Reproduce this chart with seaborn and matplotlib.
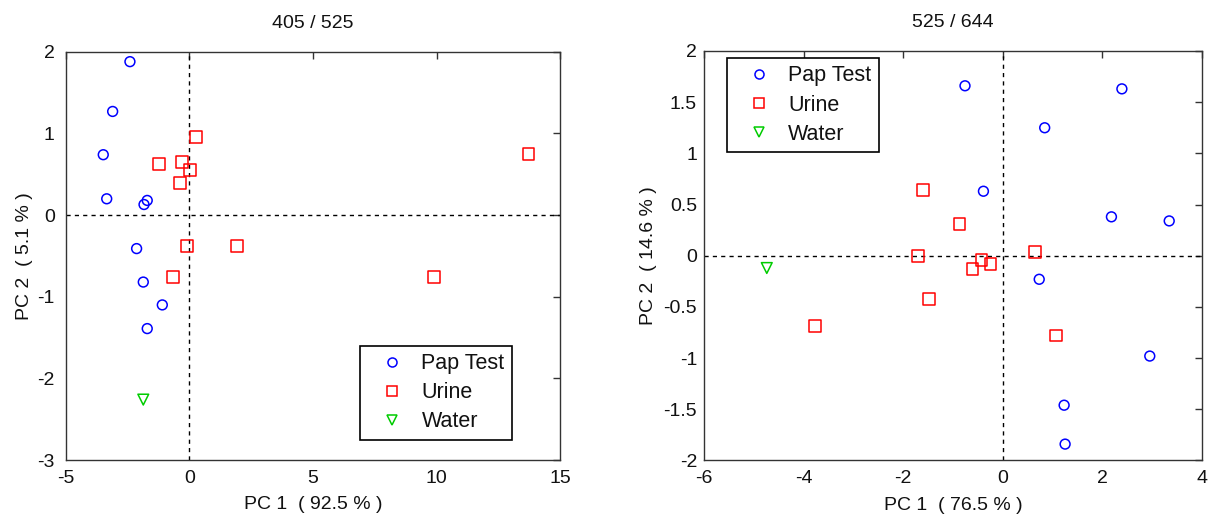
'''
    PCA score plots for two wavelength ratios
'''

# --
# Dependancies

import matplotlib
matplotlib.use('Agg')
import matplotlib.pyplot as plt
from matplotlib.lines import Line2D
from matplotlib.ticker import FormatStrFormatter
import seaborn as sns
import pandas as pd

# --
# Data

groups = ['Pap Test', 'Urine', 'Water']

# 405 / 525
pap_x_a = [-2.41, -3.11, -3.49, -3.35, -1.71, -1.84, -2.14, -1.87, -1.10, -1.71]
pap_y_a = [1.88, 1.27, 0.74, 0.20, 0.18, 0.13, -0.41, -0.82, -1.10, -1.39]
uri_x_a = [0.28, -1.23, -0.30, 0.02, -0.38, -0.09, 1.91, -0.68, 13.72, 9.90]
uri_y_a = [0.96, 0.63, 0.65, 0.55, 0.39, -0.38, -0.38, -0.76, 0.75, -0.76]
wat_x_a = [-1.87]
wat_y_a = [-2.26]

# 525 / 644
pap_x_b = [-0.76, 2.39, 0.84, -0.39, 2.18, 3.34, 0.73, 2.95, 1.23, 1.25]
pap_y_b = [1.66, 1.63, 1.25, 0.63, 0.38, 0.34, -0.23, -0.98, -1.46, -1.84]
uri_x_b = [-1.61, -0.87, -1.71, -0.61, -1.49, -3.77, -0.43, -0.25, 0.65, 1.07]
uri_y_b = [0.64, 0.31, -0.00, -0.13, -0.42, -0.69, -0.04, -0.08, 0.04, -0.78]
wat_x_b = [-4.74]
wat_y_b = [-0.12]

titles = ['405 / 525', '525 / 644']
xlabels = ['PC 1  ( 92.5 % )', 'PC 1  ( 76.5 % )']
ylabels = ['PC 2  ( 5.1 % )', 'PC 2  ( 14.6 % )']


def build(px, py, ux, uy, wx, wy):
    return pd.DataFrame({
        'x': px + ux + wx,
        'y': py + uy + wy,
        'group': ['Pap Test'] * len(px) + ['Urine'] * len(ux) + ['Water'] * len(wx),
    })


df_a = build(pap_x_a, pap_y_a, uri_x_a, uri_y_a, wat_x_a, wat_y_a)
df_b = build(pap_x_b, pap_y_b, uri_x_b, uri_y_b, wat_x_b, wat_y_b)

# --
# Style

sns.set_style('white')
plt.rcParams['font.family'] = ['Liberation Sans', 'DejaVu Sans']
plt.rcParams['axes.unicode_minus'] = False
plt.rcParams['text.color'] = '#111111'
plt.rcParams['axes.labelcolor'] = '#111111'
plt.rcParams['xtick.labelcolor'] = '#111111'
plt.rcParams['ytick.labelcolor'] = '#111111'

FS = 14
palette = {'Pap Test': '#0000ff', 'Urine': '#ff0000', 'Water': '#00cc00'}
markers = {'Pap Test': 'o', 'Urine': 's', 'Water': 'v'}
sizes = {'Pap Test': 50, 'Urine': 72, 'Water': 60}

fig = plt.figure(figsize=(12.08, 5.16), dpi=100)
ax1 = fig.add_axes([0.0546, 0.1085, 0.409, 0.791])
ax2 = fig.add_axes([0.5828, 0.1076, 0.4123, 0.7936])


def draw(ax, df, xlim, ylim, xticks, yticks, title, xlabel, ylabel,
         legend_loc, anchor, ypad, ylpad):
    ax.axhline(0, color='black', ls=(0, (3, 3)), lw=1, zorder=1)
    ax.axvline(0, color='black', ls=(0, (3, 3)), lw=1, zorder=1)
    for g in groups:
        sub = df[df.group == g]
        sns.scatterplot(data=sub, x='x', y='y', ax=ax, marker=markers[g],
                        s=sizes[g], color=palette[g], facecolor='none',
                        edgecolor=palette[g], linewidth=1.1, legend=False, zorder=3)
    ax.set_xlim(xlim)
    ax.set_ylim(ylim)
    ax.set_xticks(xticks)
    ax.set_yticks(yticks)
    ax.yaxis.set_major_formatter(FormatStrFormatter('%g'))
    ax.tick_params(direction='in', top=True, right=True, length=5, width=1,
                   color='#333333', labelsize=FS)
    ax.tick_params(axis='x', pad=7)
    ax.tick_params(axis='y', pad=ypad)
    for sp in ax.spines.values():
        sp.set_color('#333333')
        sp.set_linewidth(1)
    ax.set_title(title, fontsize=FS, pad=17)
    ax.set_xlabel(xlabel, fontsize=FS, labelpad=7)
    ax.set_ylabel(ylabel, fontsize=FS, labelpad=ylpad)

    handles = [Line2D([], [], ls='none', marker=markers[g], markersize=6.5,
                      markerfacecolor='none', markeredgecolor=palette[g],
                      markeredgewidth=1.1) for g in groups]
    leg = ax.legend(handles, groups, loc=legend_loc, bbox_to_anchor=anchor,
                    borderaxespad=0, fancybox=False, framealpha=1,
                    edgecolor='black', fontsize=15.5, handletextpad=0.2,
                    handlelength=2.3, borderpad=0.35, labelspacing=0.38)
    leg.get_frame().set_linewidth(1.2)


draw(ax1, df_a, (-5, 15), (-3, 2), [-5, 0, 5, 10, 15], [-3, -2, -1, 0, 1, 2],
     titles[0], xlabels[0], ylabels[0], 'lower right', (0.903, 0.049), 8, 3)
draw(ax2, df_b, (-6, 4), (-2, 2), [-6, -4, -2, 0, 2, 4],
     [-2, -1.5, -1, -0.5, 0, 0.5, 1, 1.5, 2],
     titles[1], xlabels[1], ylabels[1], 'upper left', (0.046, 0.983), 5, 5)

plt.savefig('out.png', dpi=100)
